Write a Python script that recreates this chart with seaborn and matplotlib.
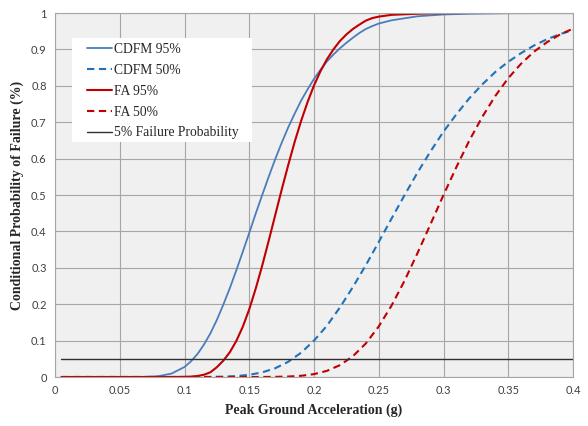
"""
Fragility curves - CDFM vs FA, 95% and 50% confidence
"""

import numpy as np
import pandas as pd
import matplotlib
matplotlib.use("Agg")
import matplotlib.pyplot as plt
from matplotlib.patches import Rectangle
import seaborn as sns

# ─── Data ───────────────────────────────────────────────────────────────────
pga_95 = [0.005, 0.02, 0.04, 0.06, 0.07, 0.08, 0.09, 0.10, 0.105, 0.11, 0.115,
          0.12, 0.125, 0.13, 0.135, 0.14, 0.145, 0.15, 0.155, 0.16, 0.165, 0.17,
          0.175, 0.18, 0.185, 0.19, 0.195, 0.20, 0.205, 0.21, 0.215, 0.22, 0.225,
          0.23, 0.235, 0.24, 0.245, 0.25, 0.26, 0.28, 0.30, 0.32, 0.35, 0.40]
cdfm_95 = [0.0, 0.0, 0.0, 0.0, 0.0004, 0.0023, 0.0094, 0.0275, 0.043, 0.063, 0.089,
           0.120, 0.157, 0.199, 0.244, 0.293, 0.344, 0.396, 0.449, 0.500, 0.550, 0.598,
           0.643, 0.685, 0.723, 0.759, 0.790, 0.819, 0.844, 0.867, 0.886, 0.903, 0.918,
           0.932, 0.945, 0.956, 0.964, 0.971, 0.980, 0.991, 0.996, 0.998, 0.9995, 1.0]
fa_95 = [0.0, 0.0, 0.0, 0.0, 0.0, 0.0, 0.0, 0.0004, 0.0011, 0.0027, 0.0062,
         0.013, 0.027, 0.045, 0.068, 0.099, 0.138, 0.186, 0.243, 0.306, 0.374, 0.444,
         0.514, 0.581, 0.645, 0.703, 0.755, 0.801, 0.840, 0.873, 0.900, 0.923, 0.941,
         0.956, 0.968, 0.979, 0.986, 0.990, 0.995, 0.998, 0.9997, 1.0, 1.0, 1.0]

pga_50 = [0.005, 0.05, 0.08, 0.10, 0.11, 0.12, 0.13, 0.14, 0.15, 0.16, 0.17, 0.18,
          0.19, 0.20, 0.21, 0.22, 0.23, 0.24, 0.25, 0.26, 0.27, 0.28, 0.29, 0.30,
          0.31, 0.32, 0.33, 0.34, 0.35, 0.36, 0.37, 0.38, 0.39, 0.40]
cdfm_50 = [0.0, 0.0, 0.0, 0.0, 0.0001, 0.0003, 0.0009, 0.0025, 0.006, 0.0127, 0.024, 0.0416,
           0.0666, 0.100, 0.141, 0.191, 0.247, 0.307, 0.371, 0.436, 0.500, 0.562, 0.620, 0.674,
           0.722, 0.766, 0.804, 0.838, 0.866, 0.890, 0.911, 0.928, 0.942, 0.953]
fa_50 = [0.0, 0.0, 0.0, 0.0, 0.0, 0.0, 0.0, 0.0, 0.0, 0.0001, 0.0004, 0.0012,
         0.0033, 0.0079, 0.0169, 0.0325, 0.057, 0.092, 0.139, 0.197, 0.265, 0.341, 0.420, 0.500,
         0.577, 0.650, 0.715, 0.772, 0.821, 0.861, 0.894, 0.920, 0.941, 0.957]

pga_limit = [0.005, 0.40]
fail_limit = [0.05, 0.05]

x_ticks = [0, 0.05, 0.1, 0.15, 0.2, 0.25, 0.3, 0.35, 0.4]
x_labels = ["0", "0.05", "0.1", "0.15", "0.2", "0.25", "0.3", "0.35", "0.4"]
y_ticks = [0, 0.1, 0.2, 0.3, 0.4, 0.5, 0.6, 0.7, 0.8, 0.9, 1.0]
y_labels = ["0", "0.1", "0.2", "0.3", "0.4", "0.5", "0.6", "0.7", "0.8", "0.9", "1"]

# ─── Style ──────────────────────────────────────────────────────────────────
BLUE_SOLID = "#4A7EBB"
BLUE_DASH = "#1F72B8"
RED = "#C00000"
LIMIT = "#303030"

sns.set_style("whitegrid")
plt.rcParams["font.family"] = ["Lato", "DejaVu Sans"]

fig = plt.figure(figsize=(5.88, 4.26), dpi=100)
ax = fig.add_axes([55 / 588, 1 - 377 / 426, 518 / 588, 364 / 426])
ax.set_facecolor("#F0F0F0")

dash = (3.5, 2.2)
sns.lineplot(x=pga_95, y=cdfm_95, ax=ax, color=BLUE_SOLID, lw=1.3, label="CDFM 95%")
sns.lineplot(x=pga_50, y=cdfm_50, ax=ax, color=BLUE_DASH, lw=1.5, label="CDFM 50%",
             linestyle=(0, dash))
sns.lineplot(x=pga_95, y=fa_95, ax=ax, color=RED, lw=1.5, label="FA 95%")
sns.lineplot(x=pga_50, y=fa_50, ax=ax, color=RED, lw=1.5, label="FA 50%",
             linestyle=(0, dash))
sns.lineplot(x=pga_limit, y=fail_limit, ax=ax, color=LIMIT, lw=1.0,
             label="5% Failure Probability")

ax.set_xlim(0, 0.4)
ax.set_ylim(0, 1)
ax.set_xticks(x_ticks)
ax.set_xticklabels(x_labels)
ax.set_yticks(y_ticks)
ax.set_yticklabels(y_labels)
ax.tick_params(axis="both", labelsize=8, colors="#404040")
ax.tick_params(axis="y", length=4, color="#A0A0A0", width=0.8, pad=2)
ax.tick_params(axis="x", length=0, pad=6)
ax.grid(True, color="#A6A6A6", lw=0.8)
for sp in ax.spines.values():
    sp.set_edgecolor("#A6A6A6")
    sp.set_linewidth(0.8)

ax.set_xlabel("Peak Ground Acceleration (g)", family="Liberation Serif",
              fontweight="bold", fontsize=10, labelpad=5)
ax.set_ylabel("Conditional Probability of Failure (%)", family="Liberation Serif",
              fontweight="bold", fontsize=10, labelpad=5)

# white legend panel, sized like the original chart's
ax.add_patch(Rectangle((0.033, 0.646), 0.347, 0.285, transform=ax.transAxes,
                       facecolor="white", edgecolor="none", zorder=4))
leg = ax.legend(loc="upper left", bbox_to_anchor=(0.062, 0.918), borderaxespad=0,
                borderpad=0, frameon=False,
                prop={"family": "Liberation Serif", "size": 9.8},
                handlelength=1.8, handletextpad=0.2, labelspacing=0.58)
leg.set_zorder(5)

fig.savefig("out.png", dpi=100, facecolor="white")
plt.close()
